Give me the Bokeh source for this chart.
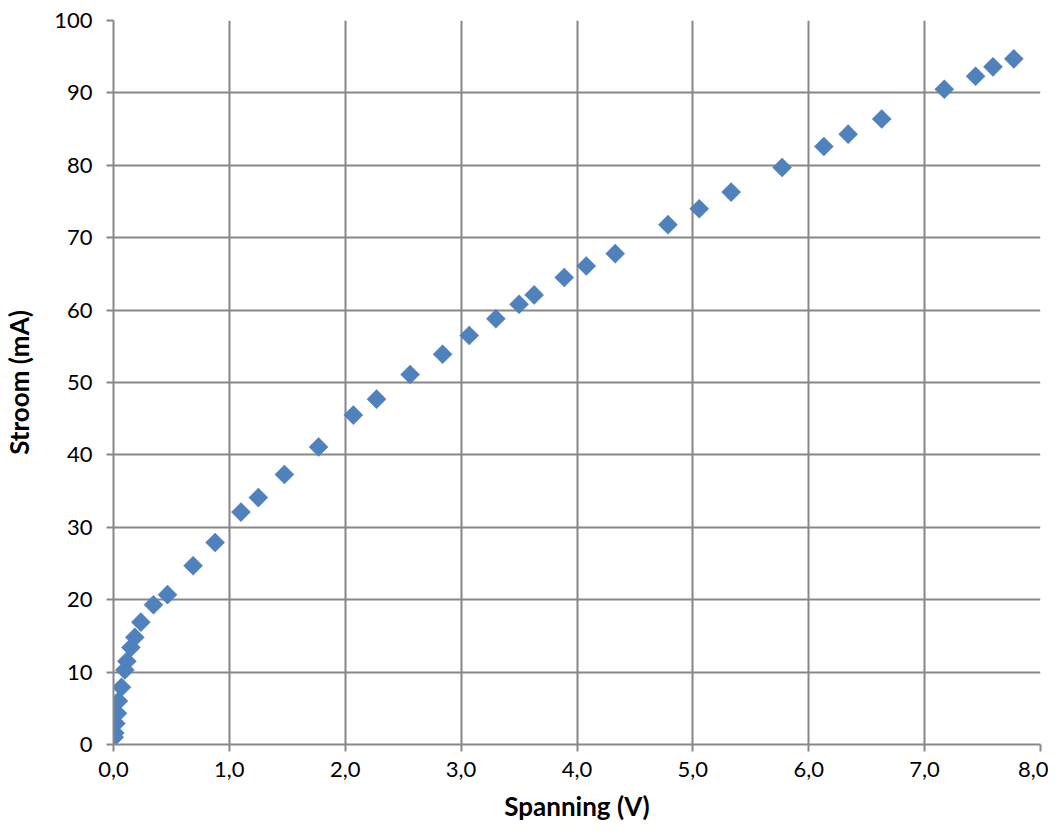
from bokeh.plotting import figure
from bokeh.models import Range1d, FixedTicker, CustomJSTickFormatter
from bokeh.embed import file_html
from bokeh.resources import INLINE
import math

spanning_v = [0.006, 0.011, 0.020, 0.034, 0.043, 0.069, 0.098, 0.115, 0.150, 0.184,
              0.236, 0.345, 0.466, 0.687, 0.877, 1.100, 1.250, 1.475, 1.770, 2.070,
              2.270, 2.560, 2.840, 3.070, 3.300, 3.500, 3.630, 3.890, 4.080, 4.330,
              4.785, 5.055, 5.330, 5.770, 6.130, 6.340, 6.630, 7.170, 7.440, 7.590, 7.770]
stroom_ma = [1.0, 1.6, 2.9, 4.3, 6.0, 7.9, 10.3, 11.5, 13.4, 14.8,
             16.9, 19.3, 20.7, 24.7, 27.9, 32.1, 34.1, 37.3, 41.1, 45.5,
             47.7, 51.1, 53.9, 56.5, 58.8, 60.8, 62.1, 64.5, 66.1, 67.8,
             71.8, 74.0, 76.3, 79.7, 82.6, 84.3, 86.4, 90.5, 92.3, 93.6, 94.7]

x_ticks = [0, 1, 2, 3, 4, 5, 6, 7, 8]
y_ticks = [0, 10, 20, 30, 40, 50, 60, 70, 80, 90, 100]

FONT = "Lato"
GRID = "#878787"

p = figure(output_backend="svg", toolbar_location=None,
           frame_width=927, frame_height=724,
           min_border_left=111, min_border_top=20,
           min_border_right=8, min_border_bottom=79,
           x_range=Range1d(0, 8), y_range=Range1d(0, 100))
p.outline_line_color = None
p.background_fill_color = "white"

p.scatter(spanning_v, stroom_ma, marker="square", size=13.5, angle=math.pi / 4,
          fill_color="#4F81BD", line_color="#4F81BD", line_width=0.5)

p.xaxis.ticker = FixedTicker(ticks=x_ticks)
p.yaxis.ticker = FixedTicker(ticks=y_ticks)
p.xaxis.formatter = CustomJSTickFormatter(code="return tick.toFixed(1).replace('.', ',');")
p.xaxis.minor_tick_line_color = None
p.yaxis.minor_tick_line_color = None

for ax in (p.xaxis, p.yaxis):
    ax.axis_line_color = GRID
    ax.axis_line_width = 2
    ax.major_tick_line_color = GRID
    ax.major_tick_line_width = 2
    ax.major_tick_out = 7
    ax.major_tick_in = 0
    ax.major_label_text_font = FONT
    ax.major_label_text_font_size = "22px"
    ax.major_label_text_color = "black"
    ax.axis_label_text_font = FONT
    ax.axis_label_text_font_size = "26px"
    ax.axis_label_text_font_style = "bold"
    ax.axis_label_text_color = "black"

p.xaxis.axis_label = "Spanning (V)"
p.yaxis.axis_label = "Stroom (mA)"
p.xaxis.major_label_standoff = 10
p.yaxis.major_label_standoff = 14
p.xaxis.axis_label_standoff = 10
p.yaxis.axis_label_standoff = 16

for g in (p.xgrid, p.ygrid):
    g.grid_line_color = GRID
    g.grid_line_width = 2
p.xgrid.ticker = FixedTicker(ticks=x_ticks)
p.ygrid.ticker = FixedTicker(ticks=y_ticks)

open("out.html", "w").write(file_html(p, INLINE))
